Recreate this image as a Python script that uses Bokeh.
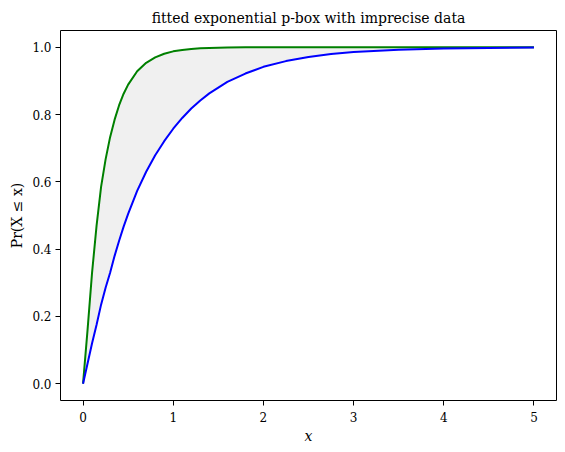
from bokeh.plotting import figure
from bokeh.models import FixedTicker, PrintfTickFormatter, Range1d
from bokeh.embed import file_html
from bokeh.resources import INLINE

x_vals = [0, 0.05, 0.1, 0.15, 0.2, 0.25, 0.3, 0.35, 0.4, 0.45, 0.5, 0.6, 0.7, 0.8, 0.9, 1.0,
          1.1, 1.2, 1.3, 1.4, 1.6, 1.8, 2.0, 2.25, 2.5, 2.75, 3.0, 3.5, 4.0, 4.5, 5.0]
upper_cdf = [0, 0.16, 0.33, 0.47, 0.585, 0.667, 0.733, 0.785, 0.828, 0.862, 0.889, 0.929, 0.954, 0.970,
             0.981, 0.988, 0.992, 0.995, 0.997, 0.998, 0.9995, 1.0, 1.0, 1.0, 1.0, 1.0, 1.0, 1.0, 1.0,
             1.0, 1.0]
lower_cdf = [0, 0.06, 0.12, 0.175, 0.235, 0.285, 0.33, 0.38, 0.425, 0.467, 0.505, 0.573, 0.630, 0.679,
             0.721, 0.758, 0.790, 0.818, 0.842, 0.863, 0.897, 0.922, 0.942, 0.959, 0.971, 0.980, 0.986,
             0.993, 0.9966, 0.9983, 0.9992]
x_ticks = [0, 1, 2, 3, 4, 5]
y_ticks = [0.0, 0.2, 0.4, 0.6, 0.8, 1.0]

FONT = "DejaVu Serif"

p = figure(width=562, height=450, output_backend="svg", toolbar_location=None,
           x_range=Range1d(-0.25, 5.25), y_range=Range1d(-0.05, 1.05),
           min_border_left=60, min_border_right=6, min_border_top=30, min_border_bottom=50,
           title="fitted exponential p-box with imprecise data")

p.varea(x=x_vals, y1=lower_cdf, y2=upper_cdf, fill_color="#f0f0f0")
p.line(x_vals, upper_cdf, line_color="#008000", line_width=2)
p.line(x_vals, lower_cdf, line_color="#0000ff", line_width=2)

p.title.align = "center"
p.title.vertical_align = "top"
p.title.text_font = FONT
p.title.text_font_style = "normal"
p.title.text_font_size = "14px"
p.title.text_color = "black"
p.title.standoff = 6

p.xgrid.visible = False
p.ygrid.visible = False
p.outline_line_color = "black"
p.outline_line_width = 1
p.outline_line_alpha = 1

p.xaxis.ticker = FixedTicker(ticks=x_ticks)
p.yaxis.ticker = FixedTicker(ticks=y_ticks)
p.xaxis.formatter = PrintfTickFormatter(format="%d")
p.yaxis.formatter = PrintfTickFormatter(format="%.1f")
p.xaxis.axis_label = "x"
p.yaxis.axis_label = "Pr(X ≤ x)"
p.xaxis.axis_label_text_font_style = "italic"
p.yaxis.axis_label_text_font_style = "normal"

for ax in (p.xaxis[0], p.yaxis[0]):
    ax.axis_line_color = None
    ax.major_tick_line_color = "black"
    ax.major_tick_in = 0
    ax.major_tick_out = 5
    ax.minor_tick_line_color = None
    ax.major_label_text_font = FONT
    ax.major_label_text_font_size = "12px"
    ax.major_label_text_color = "black"
    ax.axis_label_text_font = FONT
    ax.axis_label_text_font_size = "14px"
    ax.axis_label_text_color = "black"

p.xaxis.major_label_standoff = 6
p.yaxis.major_label_standoff = 4
p.xaxis.axis_label_standoff = 3
p.yaxis.axis_label_standoff = 4

open("out.html", "w").write(file_html(p, INLINE))
